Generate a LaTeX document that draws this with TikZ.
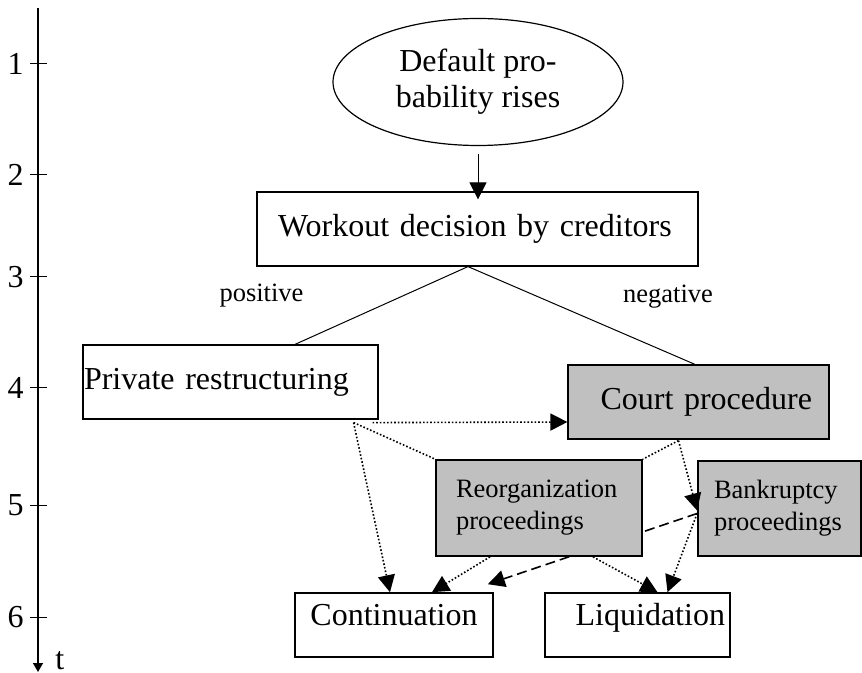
\documentclass[tikz,border=0pt]{standalone}
\usepackage{fontspec}
\setmainfont{Liberation Serif}
\usetikzlibrary{arrows.meta,shapes.geometric,backgrounds}
\definecolor{procGray}{RGB}{192,192,192}

\begin{document}
\begin{tikzpicture}[x=0.5pt,y=-0.5pt,
  font=\fontsize{16}{18}\selectfont,
  arr/.style={-{Triangle[length=8.5pt,width=8.5pt]}},
  oval/.style={ellipse,draw,line width=0.6pt,inner sep=0pt,align=center,
    minimum width=145pt,minimum height=63.5pt},
  whitebox/.style={draw,line width=0.6pt,inner ysep=0pt},
  graybox/.style={draw,fill=procGray,line width=0.9pt,inner ysep=0pt,
    font=\fontsize{13.25}{16}\selectfont,align=left},
  endbox/.style={draw,line width=0.8pt,inner ysep=0pt,text height=8pt,
    text depth=8pt,minimum height=32pt},
  branch/.style={font=\fontsize{13.25}{16}\selectfont,anchor=base},
  ticklbl/.style={left,inner sep=3pt},
  dotline/.style={line width=0.8pt,dash pattern=on 0.8pt off 1pt},
  dotarr/.style={dotline,arr},
  dasharr/.style={line width=0.8pt,dash pattern=on 5pt off 2.5pt,arr}]
  \useasboundingbox (0,0) rectangle (862,673);
  % Time axis
  \coordinate (axtop) at (38,8);
  \coordinate (axbot) at (38,672);
  \draw[line width=0.7pt,-{Triangle[length=4.5pt,width=5pt]}] (axtop) -- (axbot);
  \draw[line width=0.5pt] (30,64) node[ticklbl] (n1) {1} -- (47,64);
  \draw[line width=0.5pt] (30,175) node[ticklbl] (n2) {2} -- (47,175);
  \draw[line width=0.5pt] (30,277) node[ticklbl] (n3) {3} -- (47,277);
  \draw[line width=0.5pt] (30,388) node[ticklbl] (n4) {4} -- (47,388);
  \draw[line width=0.5pt] (30,505) node[ticklbl] (n5) {5} -- (47,505);
  \draw[line width=0.5pt] (30,617) node[ticklbl] (n6) {6} -- (47,617);
  \node[anchor=base west,inner sep=0pt] (tlbl) at (55,669) {t};
  % Stages
  \node[oval] (dflt) at (478,82) {Default pro-\\bability rises};
  \node[whitebox,minimum width=220.5pt,minimum height=37pt,inner xsep=10.5pt,
    text width=199.5pt,align=left] (work) at (477.5,229) {Workout decision by creditors};
  \node[whitebox,minimum width=147.5pt,minimum height=37pt,inner xsep=0.5pt,
    text width=146.5pt,align=left] (priv) at (230.5,382) {Private restructuring};
  \node[whitebox,fill=procGray,minimum width=130.5pt,minimum height=37pt,inner xsep=8.5pt,
    text width=113.5pt,align=right] (court) at (698.5,402) {Court procedure};
  \node[graybox,minimum width=103pt,minimum height=48pt,inner xsep=10pt,
    text width=83pt] (reorg) at (539,508) {Reorganization\\proceedings};
  \node[graybox,minimum width=81.5pt,minimum height=47.5pt,inner xsep=8pt,
    text width=65.5pt] (bankr) at (779.5,508.5) {Bankruptcy\\proceedings};
  \node[endbox,minimum width=99pt] (cont) at (394,625) {Continuation};
  \node[endbox,minimum width=92.5pt,inner xsep=2.5pt,text width=87.5pt,
    align=right] (liq) at (637.5,625) {Liquidation};
  % Decision branches
  \draw[line width=0.5pt,arr] ([yshift=-4pt]dflt.south) -- ([yshift=-4pt]dflt.south |- work.north);
  \coordinate (apex) at ([xshift=-4.75pt]work.south);
  \draw[line width=0.5pt] ([xshift=32.25pt]priv.north) -- (apex) -- ([xshift=-1.75pt]court.north);
  \node[branch] (pos) at (261.5,302) {positive};
  \node[branch] (neg) at (668,303) {negative};
  % Transitions
  \coordinate (pA) at ([shift={(-12.5pt,-1.5pt)}]priv.south east);
  \coordinate (pB) at ([shift={(-10pt,-0.5pt)}]court.south);
  \coordinate (pC) at ([yshift=-2.5pt]bankr.west);
  \draw[dotarr] ([shift={(-3pt,-1.5pt)}]priv.south east) -- ([yshift=-10pt]court.west);
  \draw[dotline] (pA) -- (reorg.north west);
  \draw[dotarr] (pA) -- ([xshift=-2pt]cont.north);
  \draw[dotline] (pB) -- (reorg.north east);
  \draw[dotarr] (pB) -- ([yshift=-1pt]bankr.west);
  \begin{scope}[on background layer]
    \draw[dasharr] (pC) -- ([shift={(-3pt,4pt)}]cont.north east);
  \end{scope}
  \draw[dotarr] (pC) -- ([xshift=15pt]liq.north);
  \draw[dotarr] ([xshift=-24.5pt]reorg.south) -- ([xshift=19pt]cont.north);
  \draw[dotarr] ([xshift=27pt]reorg.south) -- ([xshift=10pt]liq.north);
\end{tikzpicture}
\end{document}
